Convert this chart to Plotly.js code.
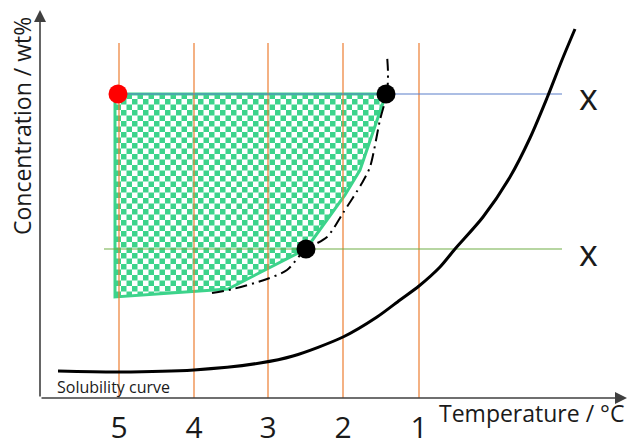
<!DOCTYPE html>
<html>
<head>
<meta charset="utf-8">
<script src="https://cdn.plot.ly/plotly-3.0.1.min.js"></script>
<style>
  html, body { margin: 0; padding: 0; background: #fff; }
  #grafico { width: 627px; height: 448px; }
</style>
</head>
<body>
<div id="grafico"></div>
<script>
// Estágios (linhas laranja) - temperatura de cada estágio
var estagios = ['5', '4', '3', '2', '1'];
var tempEstagios = [79, 154, 228, 303, 379];
var topoEstagios = 355;

// Curva de solubilidade
var solT = [18, 79, 154, 220, 253, 303, 337, 360, 379, 400, 415, 443, 470, 490, 507, 522, 535];
var solC = [27, 26, 28, 35, 42, 61, 81, 98, 112, 131, 149, 181, 221, 260, 300, 338, 369];

// Curva traço-ponto (limite metaestável)
var metaT = [172, 193, 227, 247, 265, 287, 303, 322, 330, 340, 347, 348, 347];
var metaC = [105, 109, 119, 128, 148, 161, 185, 215, 231, 278, 305, 325, 343];

// Região de operação (área quadriculada)
var regiaoT = [75, 346, 320, 305, 266, 188, 75, 75];
var regiaoC = [304, 304, 228, 203, 149, 109, 101, 304];

// Concentrações de alimentação e final
var concAlta = 304;
var concBaixa = 149;
var linhaAltaT = [75, 522];
var linhaBaixaT = [64, 522];

// Pontos
var pontoVermelho = {t: 78, c: 304};
var pontosPretosT = [346, 266];
var pontosPretosC = [304, 149];

function initGrafico() {
    // linhas verticais dos estágios
    var estX = [], estY = [];
    tempEstagios.forEach(function(t) {
        estX.push(t, t, null);
        estY.push(0, topoEstagios, null);
    });

    var data = [
        {
            x: regiaoT, y: regiaoC, mode: 'lines', fill: 'toself',
            fillcolor: '#3cd38b',
            fillpattern: {shape: '.', bgcolor: '#ffffff', fgcolor: '#3cd38b', size: 11, solidity: 0.5},
            line: {color: '#3cd38b', width: 3}, hoverinfo: 'skip'
        },
        {
            x: estX, y: estY, mode: 'lines',
            line: {color: '#ed7d31', width: 1.2}
        },
        {
            x: linhaAltaT, y: [concAlta, concAlta], mode: 'lines',
            line: {color: '#5b7fc9', width: 1.2}
        },
        {
            x: linhaBaixaT, y: [concBaixa, concBaixa], mode: 'lines',
            line: {color: '#70ad47', width: 1.2}
        },
        {
            x: solT, y: solC, mode: 'lines',
            line: {color: '#000', width: 3, shape: 'spline', smoothing: 0.8}
        },
        {
            x: metaT, y: metaC, mode: 'lines',
            line: {color: '#000', width: 2, shape: 'spline', smoothing: 0.8, dash: '12px,5px,2px,5px'}
        },
        {
            x: [pontoVermelho.t], y: [pontoVermelho.c], mode: 'markers',
            marker: {color: '#ff0000', size: 19}
        },
        {
            x: pontosPretosT, y: pontosPretosC, mode: 'markers',
            marker: {color: '#000', size: 19}
        },
        {
            x: tempEstagios, y: tempEstagios.map(function() { return -32; }),
            mode: 'text', text: estagios, cliponaxis: false,
            textfont: {family: 'Open Sans', size: 30, color: '#1a1a1a'}
        }
    ];

    var fonte = 'Open Sans';
    var layout = {
        width: 627, height: 448,
        margin: {l: 0, r: 0, t: 0, b: 0},
        paper_bgcolor: '#fff', plot_bgcolor: '#fff',
        showlegend: false,
        xaxis: {range: [-40, 587], visible: false, fixedrange: true},
        yaxis: {range: [-50, 398], visible: false, fixedrange: true},
        annotations: [
            // eixos com setas
            {x: 587, y: 0, ax: 0, ay: 0, axref: 'x', ayref: 'y', xref: 'x', yref: 'y',
             text: '', showarrow: true, arrowhead: 2, arrowsize: 1.5, arrowwidth: 1.6, arrowcolor: '#404040'},
            {x: 0, y: 388, ax: 0, ay: 0, axref: 'x', ayref: 'y', xref: 'x', yref: 'y',
             text: '', showarrow: true, arrowhead: 2, arrowsize: 1.5, arrowwidth: 1.6, arrowcolor: '#404040'},
            {x: 491, y: -15, xref: 'x', yref: 'y', text: 'Temperature / °C', showarrow: false,
             font: {family: fonte, size: 23, color: '#1a1a1a'}},
            {x: -18, y: 272, xref: 'x', yref: 'y', text: 'Concentration / wt%', showarrow: false, textangle: -90,
             font: {family: fonte, size: 23, color: '#1a1a1a'}},
            {x: 73, y: 11, xref: 'x', yref: 'y', text: 'Solubility curve', showarrow: false,
             font: {family: fonte, size: 16, color: '#1a1a1a'}},
            {x: 548, y: concAlta - 2, xref: 'x', yref: 'y', text: 'x', showarrow: false,
             font: {family: fonte, size: 36, color: '#1a1a1a'}},
            {x: 548, y: concBaixa - 3, xref: 'x', yref: 'y', text: 'x', showarrow: false,
             font: {family: fonte, size: 36, color: '#1a1a1a'}}
        ]
    };

    Plotly.newPlot('grafico', data, layout, {staticPlot: true}).then(function() {
        // troca o padrão de pontos por um quadriculado
        var ns = 'http://www.w3.org/2000/svg';
        document.querySelectorAll('#grafico pattern').forEach(function(p) {
            var s = parseFloat(p.getAttribute('width'));
            while (p.firstChild) p.removeChild(p.firstChild);
            var fundo = document.createElementNS(ns, 'rect');
            fundo.setAttribute('width', s); fundo.setAttribute('height', s);
            fundo.setAttribute('fill', '#ffffff');
            p.appendChild(fundo);
            [[0, 0], [s / 2, s / 2]].forEach(function(o) {
                var r = document.createElementNS(ns, 'rect');
                r.setAttribute('x', o[0]); r.setAttribute('y', o[1]);
                r.setAttribute('width', s / 2); r.setAttribute('height', s / 2);
                r.setAttribute('fill', '#3cd38b');
                p.appendChild(r);
            });
        });
    });
}

document.addEventListener('DOMContentLoaded', function() {
    initGrafico();
});
</script>
</body>
</html>
